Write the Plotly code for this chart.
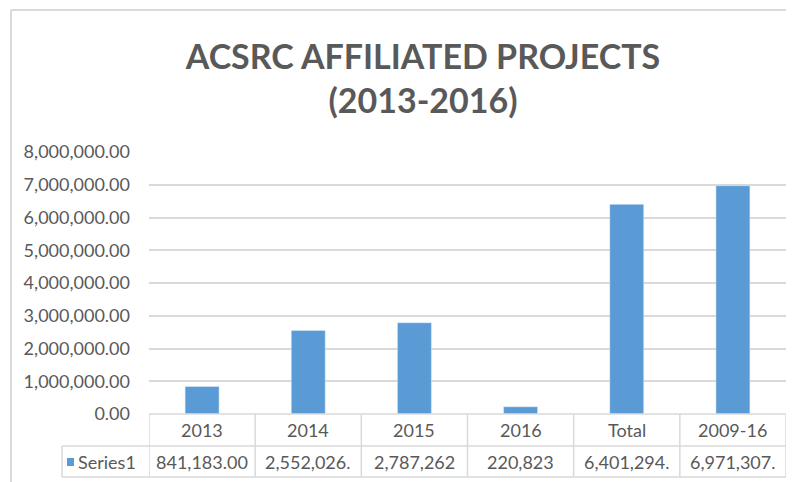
import plotly.graph_objects as go

categories = ["2013", "2014", "2015", "2016", "Total", "2009-16"]
values = [841183.00, 2552026.00, 2787262.00, 220823.00, 6401294.00, 6971307.00]
table_labels = ["841,183.00", "2,552,026.", "2,787,262", "220,823", "6,401,294.", "6,971,307."]
series_name = "Series1"

_BLUE, _TEXT, _GRID, _BORDER = "#5b9bd5", "#595959", "#d9d9d9", "#d9d9d9"
FONT = "Lato, Calibri, sans-serif"

W, H = 794, 482
L, R, T, B = 149, 8, 152, 68
PW, PH = W - L - R, H - T - B


def px(x):  # page x -> paper x
    return (x - L) / PW


def py(y):  # page y -> paper y
    return (H - B - y) / PH


fig = go.Figure(go.Bar(x=categories, y=values, marker_color=_BLUE, width=0.32,
                       name=series_name, showlegend=False))

fig.update_layout(
    width=W, height=H, margin=dict(l=L, r=R, t=T, b=B),
    plot_bgcolor="white", paper_bgcolor="white",
    font=dict(family=FONT, size=18, color=_TEXT),
    title=dict(text="<b>ACSRC AFFILIATED PROJECTS<br>(2013-2016)</b>",
               font=dict(family=FONT, size=34, color=_TEXT),
               xref="container", x=423 / W, xanchor="center",
               yref="container", y=1 - 69 / H, yanchor="middle"),
)
fig.update_yaxes(range=[0, 8e6], dtick=1e6, tickformat=",.2f", gridcolor=_GRID,
                 gridwidth=1.5, zeroline=False, showline=False, ticklabelstandoff=18)
fig.update_xaxes(type="category", range=[-0.5, 5.5], showticklabels=False,
                 showgrid=False, zeroline=False)

line = dict(color=_BORDER, width=1.5)
shapes = []
# table rows
row1, row2 = py(446), py(477)
shapes.append(dict(type="line", xref="paper", yref="paper", x0=0, x1=1, y0=0, y1=0, line=line))
for yy in (row1, row2):
    shapes.append(dict(type="line", xref="paper", yref="paper", x0=px(62), x1=1, y0=yy, y1=yy, line=line))
for i in range(len(categories) + 1):
    shapes.append(dict(type="line", xref="x", yref="paper", x0=i - 0.5, x1=i - 0.5,
                       y0=0, y1=row2, line=line))
shapes.append(dict(type="line", xref="paper", yref="paper", x0=px(62), x1=px(62),
                   y0=row1, y1=row2, line=line))
# legend key
shapes.append(dict(type="rect", xref="paper", yref="paper", x0=px(67), x1=px(74),
                   y0=py(466), y1=py(458), fillcolor=_BLUE, line=dict(width=0)))
# chart frame (top and left edges)
shapes.append(dict(type="line", xref="paper", yref="paper", x0=px(11), x1=px(786),
                   y0=py(10), y1=py(10), line=dict(color=_BORDER, width=2)))
shapes.append(dict(type="line", xref="paper", yref="paper", x0=px(11), x1=px(11),
                   y0=py(10), y1=py(490), line=dict(color=_BORDER, width=2)))
fig.update_layout(shapes=shapes)

for i, (cat, lab) in enumerate(zip(categories, table_labels)):
    fig.add_annotation(x=i, xref="x", y=py(430), yref="paper", text=cat,
                       showarrow=False, yanchor="middle")
    fig.add_annotation(x=i, xref="x", y=py(462), yref="paper", text=lab,
                       showarrow=False, yanchor="middle")
fig.add_annotation(x=px(76), xref="paper", y=py(462), yref="paper", text=series_name,
                   showarrow=False, xanchor="left", yanchor="middle")

fig.write_html("out.html", config={"displayModeBar": False},
               post_script="document.body.style.margin='0';")
